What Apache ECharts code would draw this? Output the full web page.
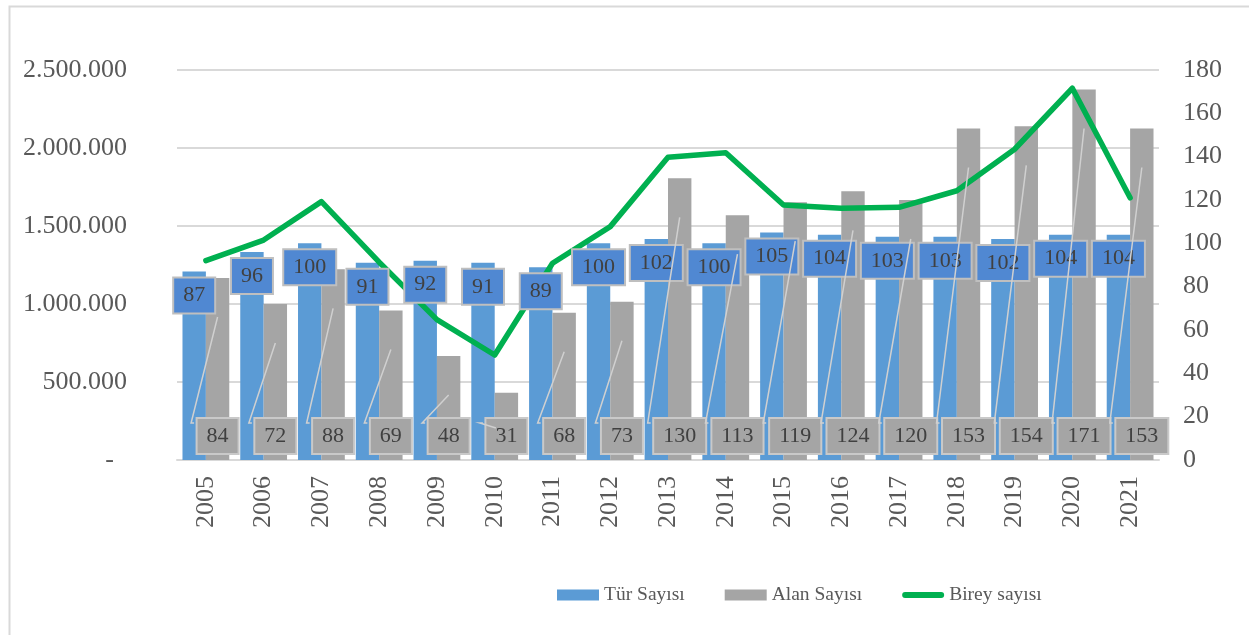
<!DOCTYPE html>
<html><head><meta charset="utf-8">
<script src="https://cdn.jsdelivr.net/npm/echarts@6/dist/echarts.min.js"></script>
<style>html,body{margin:0;padding:0;background:#fff}#c{width:1249px;height:635px}</style>
</head><body><div id="c"></div>
<script>
const years = ['2005','2006','2007','2008','2009','2010','2011','2012','2013','2014','2015','2016','2017','2018','2019','2020','2021'];
const turSayisi = [87,96,100,91,92,91,89,100,102,100,105,104,103,103,102,104,104];
const alanSayisi = [84,72,88,69,48,31,68,73,130,113,119,124,120,153,154,171,153];
const bireySayisi = [1278000,1410000,1656000,1268000,900000,673000,1261000,1496000,1940000,1970000,1635000,1614000,1620000,1726000,1992000,2383000,1681000];
const seriesNames = ['Tür Sayısı','Alan Sayısı','Birey sayısı'];

const FONT = "'Liberation Serif','Times New Roman',serif";
const BAR_CAT_GAP = 0.19;
function dots(v){ return String(v).replace(/\B(?=(\d{3})+(?!\d))/g,'.'); }

const chart = echarts.init(document.getElementById('c'), null, {renderer:'canvas'});
chart.setOption({
  animation:false,
  backgroundColor:'#fff',
  graphic:[{type:'rect',silent:true,z:-1,shape:{x:9.5,y:6.5,width:1300,height:700},style:{fill:'none',stroke:'#d9d9d9',lineWidth:2}}],
  grid:{left:177,right:90,top:70,bottom:175,containLabel:false},
  legend:{
    left:552, top:580, itemWidth:42, itemHeight:11, itemGap:40,
    textStyle:{fontFamily:FONT,fontSize:19.5,color:'#595959'},
    data:[{name:seriesNames[0],icon:'rect'},{name:seriesNames[1],icon:'rect'},
          {name:seriesNames[2],icon:'path://M7,0 L93,0 A7,7 0 0 1 93,14 L7,14 A7,7 0 0 1 7,0 Z'}]
  },
  xAxis:{
    type:'category', data:years,
    axisLine:{lineStyle:{color:'#d9d9d9',width:2}},
    axisTick:{show:false},
    axisLabel:{rotate:90,margin:16,fontFamily:FONT,fontSize:26,color:'#595959'}
  },
  yAxis:[
    {type:'value',min:0,max:2500000,interval:500000,
     axisLine:{show:false},axisTick:{show:false},
     splitLine:{lineStyle:{color:'#d9d9d9',width:2}},
     axisLabel:{margin:50,fontFamily:FONT,fontSize:26,color:'#595959',
       formatter:function(v){return v===0?'-\u00a0\u00a0':dots(v);}}},
    {type:'value',min:0,max:180,interval:20,position:'right',
     axisLine:{show:false},axisTick:{show:false},splitLine:{show:false},
     axisLabel:{margin:24,fontFamily:FONT,fontSize:26,color:'#595959'}}
  ],
  series:[
    {name:seriesNames[0],type:'bar',yAxisIndex:1,data:turSayisi,barGap:'0%',barCategoryGap:(BAR_CAT_GAP*100)+'%',
     itemStyle:{color:'#5b9bd5'}},
    {name:seriesNames[1],type:'bar',yAxisIndex:1,data:alanSayisi,
     itemStyle:{color:'#a5a5a5'}},
    {name:seriesNames[2],type:'line',yAxisIndex:0,data:bireySayisi,symbol:'none',
     itemStyle:{color:'#00b050'},lineStyle:{color:'#00b050',width:5.5,cap:'round',join:'round'}},
    {type:'custom',yAxisIndex:1,silent:true,z:10,
     data:alanSayisi.map(function(v,i){return [i,turSayisi[i],v];}),
     renderItem:function(params,api){
       var i=api.value(0), t=api.value(1), v=api.value(2);
       var c0=api.coord([i,0]), ct=api.coord([i,t]), cv=api.coord([i,v]);
       var band=api.size([1,0])[0];
       var barW=band*(1-BAR_CAT_GAP)/2;
       var bx=c0[0]-barW/2, gx=c0[0]+barW/2;
       var halfBox=(String(v).length*11+20)/2;
       var sx=gx-halfBox-5.5, sy=c0[1]-37;
       var ex=gx, ey=cv[1]+39;
       if(ey>sy-20){ex=sx+16;ey=sy+5;}
       var lbl=function(x,y,txt,bg,bc,va){
         return {type:'text',x:x,y:y,style:{text:String(txt),fontFamily:FONT,fontSize:22,fill:'#404040',
           align:'center',verticalAlign:va,backgroundColor:bg,borderColor:bc,borderWidth:2,padding:[6,9]}};
       };
       return {type:'group',children:[
         lbl(bx,ct[1]+7,t,'#5088d2','#bfbfbf','top'),
         lbl(gx,c0[1]-7,v,'#a5a5a5','#c9c9c9','bottom'),
         {type:'polyline',shape:{points:[[ex,ey],[sx,sy],[sx+3,sy]]},
          style:{stroke:'#d0d0d0',lineWidth:1.5,fill:null}}
       ]};
     }}
  ]
});
</script></body></html>
